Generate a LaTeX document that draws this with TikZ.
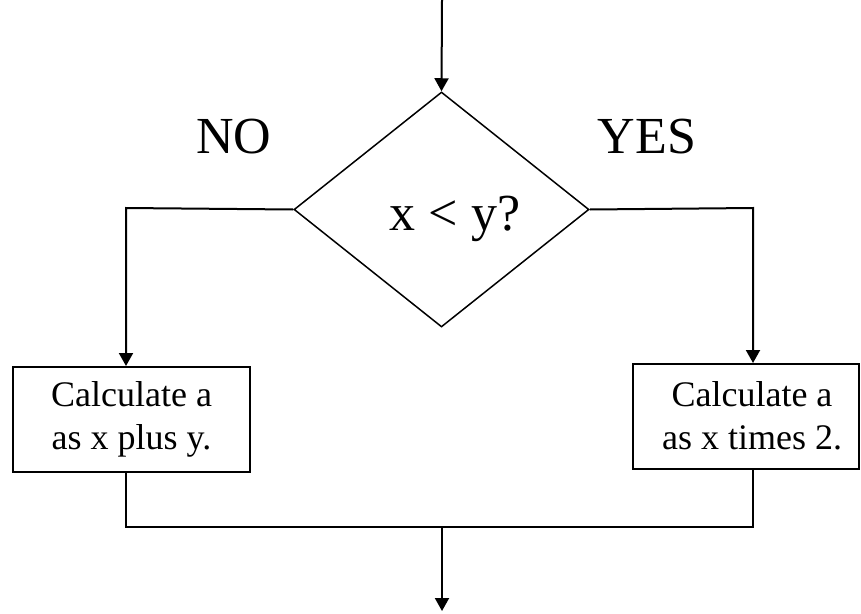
\documentclass[tikz,border=0pt]{standalone}
\usepackage{fontspec}
\setmainfont{Liberation Serif}
\usetikzlibrary{arrows.meta,shapes.geometric}
\begin{document}
\begin{tikzpicture}[x=1pt,y=-1pt,
  conn/.style={line width=2pt},
  arr/.style={conn,-{Triangle[length=13pt,width=14pt]}},
  dec/.style={draw,diamond,line width=1.5pt,inner sep=0pt,minimum width=295pt,minimum height=235pt},
  box/.style={draw,line width=2pt,inner sep=0pt,align=center,font=\fontsize{36}{43}\selectfont},
  lbl/.style={font=\fontsize{52}{60}\selectfont,inner sep=0pt,anchor=base}]
\useasboundingbox (0,0) rectangle (861,613);
\node[dec] (d) at (441.5,209.5) {};
\node[lbl] (q) at (455,230) {x < y?};
\node[lbl] (no) at (234,153) {NO};
\node[lbl] (yes) at (647,153) {YES};
\node[box,minimum width=237pt,minimum height=105pt] (lbox) at (131.5,419.5) {Calculate a\\as x plus y.};
\node[box,minimum width=226pt,minimum height=105pt,
  label={[font=\fontsize{36}{43}\selectfont,align=center,inner sep=0pt,xshift=6pt,yshift=1pt]center:{Calculate a\\as x times 2.}}] (rbox) at (746,416.5) {};
\coordinate (start) at (442,0);
\coordinate (lc) at (126,208);
\coordinate (rc) at (753,208);
\coordinate (ml) at (126,527);
\coordinate (mr) at (753,527);
\coordinate (mid) at (442,527);
\coordinate (end) at (442,611);
\draw[arr] (start) -- (d.north);
\draw[arr] (d.west) -- (lc) -- (lc |- lbox.north);
\draw[arr] (d.east) -- (rc) -- (rc |- rbox.north);
\draw[conn] (lbox.south -| ml) -- (ml) -- (mr) -- (rbox.south -| mr);
\draw[arr] (mid) -- (end);
\end{tikzpicture}
\end{document}
